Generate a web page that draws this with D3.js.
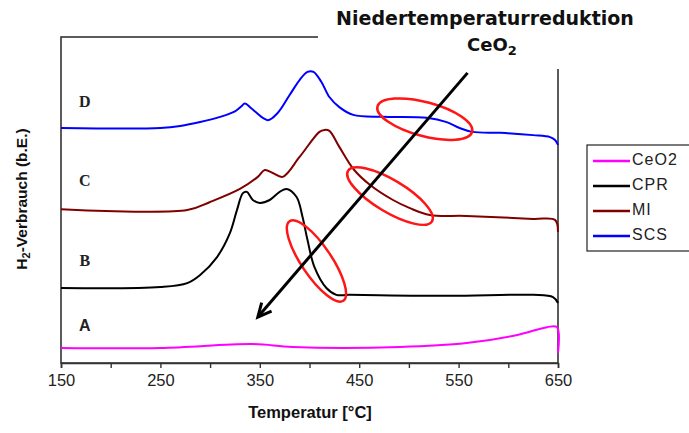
<!DOCTYPE html>
<html><head><meta charset="utf-8">
<script src="https://cdn.jsdelivr.net/npm/d3@7"></script>
<style>body{margin:0;background:#fff}svg{display:block}</style>
</head><body>
<svg id="c" width="689" height="433"></svg>
<script>
// ---- data (x: temperature °C, y: H2 consumption, arbitrary units) ----
const seriesNames = ["CeO2", "CPR", "MI", "SCS"];
const seriesColors = ["#ff00ff", "#000000", "#800000", "#0000ff"];
const tempCeO2 = [150, 250, 343, 383, 491, 558, 609, 639, 649, 650];
const valCeO2  = [0.46, 0.46, 0.58, 0.49, 0.49, 0.61, 0.86, 1.10, 1.10, 0.31];
const tempCPR = [150, 250, 277, 290, 307, 320, 327, 333, 337, 343, 350, 360, 370, 377, 387, 393, 398, 405, 417, 427, 440, 541, 625, 645, 650];
const valCPR  = [2.30, 2.33, 2.45, 2.70, 3.25, 3.99, 4.69, 5.21, 5.25, 5.00, 4.91, 5.00, 5.25, 5.34, 5.09, 4.48, 3.77, 2.94, 2.30, 2.09, 2.09, 2.06, 2.09, 2.02, 1.84];
const tempMI = [150, 277, 300, 330, 348, 355, 363, 373, 390, 410, 415, 420, 430, 445, 461, 484, 501, 521, 558, 625, 647, 650];
const valMI  = [4.72, 4.69, 4.94, 5.34, 5.71, 5.92, 5.83, 5.71, 6.32, 7.09, 7.15, 7.12, 6.63, 5.92, 5.46, 5.00, 4.75, 4.54, 4.51, 4.42, 4.39, 4.02];
const tempSCS = [150, 250, 270, 290, 310, 325, 331, 335, 342, 358, 368, 380, 390, 398, 404, 412, 420, 430, 444, 474, 518, 538, 551, 564, 592, 625, 642, 647, 650];
const valSCS  = [7.21, 7.21, 7.27, 7.39, 7.55, 7.72, 7.86, 7.96, 7.80, 7.45, 7.67, 8.22, 8.68, 8.93, 8.93, 8.62, 8.16, 7.85, 7.61, 7.55, 7.52, 7.39, 7.21, 7.09, 7.06, 6.99, 6.93, 6.84, 6.69];
const xTicks = [150, 250, 350, 450, 550, 650];
const xMinorTicks = [150, 200, 250, 300, 350, 400, 450, 500, 550, 600, 650];
const curveLetters = ["A", "B", "C", "D"];
const letterTemp = 174;
const letterVals = [1.10, 3.10, 5.55, 7.96];
const arrowFrom = [559, 8.90];
const arrowTo = [348, 1.41];
const ellipseCenters = [[516, 7.48], [481, 5.12], [407, 3.13]];

// ---- layout ----
const svg = d3.select("#c");
const L = 61, R = 558, T = 37, B = 363;
const x = d3.scaleLinear().domain([150, 650]).range([L, R]);
const y = d3.scaleLinear().domain([0, 10]).range([B, T]);

// frame
svg.append("rect").attr("x", L).attr("y", T).attr("width", R - L).attr("height", B - T)
  .attr("fill", "none").attr("stroke", "#333").attr("stroke-width", 1.6);
// white area hiding frame behind title
svg.append("rect").attr("x", 318).attr("y", 0).attr("width", 371).attr("height", 69).attr("fill", "#fff");

// x axis
const xAxis = d3.axisBottom(x).tickValues(xMinorTicks).tickSize(5).tickFormat(d => xTicks.includes(d) ? d : "");
const gx = svg.append("g").attr("transform", `translate(0,${B})`).call(xAxis);
gx.select(".domain").attr("stroke", "#333").attr("stroke-width", 1.6);
gx.selectAll(".tick line").attr("stroke", "#333").attr("stroke-width", 1.4);
gx.selectAll(".tick text").attr("font-family", "Liberation Sans, Arial, sans-serif")
  .attr("font-size", 16.5).attr("fill", "#222").attr("dy", "0.95em").attr("y", 7);

// curves
const lineSimple = d3.line().x(d => x(d[0])).y(d => y(d[1])).curve(d3.curveCatmullRom.alpha(0.5));
const dataSets = [
  d3.zip(tempCeO2, valCeO2), d3.zip(tempCPR, valCPR), d3.zip(tempMI, valMI), d3.zip(tempSCS, valSCS)
];
dataSets.forEach((ds, i) => {
  svg.append("path").datum(ds).attr("d", lineSimple)
    .attr("fill", "none").attr("stroke", seriesColors[i]).attr("stroke-width", 2)
    .attr("stroke-linejoin", "round");
});

// letters
curveLetters.forEach((l, i) => {
  svg.append("text").attr("x", x(letterTemp)).attr("y", y(letterVals[i]))
    .attr("text-anchor", "middle").attr("dominant-baseline", "middle")
    .attr("font-family", i === 0 ? "Liberation Sans, Arial, sans-serif" : "Liberation Serif, Times New Roman, serif")
    .attr("font-weight", "bold").attr("font-size", 16).attr("fill", "#222").text(l);
});

// ellipses
const ellStyle = [[49, 17, 15], [49, 16, 31], [48, 15, 56]];
ellipseCenters.forEach((c, i) => {
  const [rx, ry, a] = ellStyle[i];
  svg.append("ellipse").attr("cx", 0).attr("cy", 0).attr("rx", rx).attr("ry", ry)
    .attr("transform", `translate(${x(c[0])},${y(c[1])}) rotate(${a})`)
    .attr("fill", "none").attr("stroke", "#ff1515").attr("stroke-width", 2.5);
});

// arrow
const ax1 = x(arrowFrom[0]), ay1 = y(arrowFrom[1]), ax2 = x(arrowTo[0]), ay2 = y(arrowTo[1]);
svg.append("line").attr("x1", ax1).attr("y1", ay1).attr("x2", ax2).attr("y2", ay2)
  .attr("stroke", "#000").attr("stroke-width", 3);
const ang = Math.atan2(ay2 - ay1, ax2 - ax1);
const hl = 15, ha = 0.45;
const p1 = [ax2 - hl * Math.cos(ang - ha), ay2 - hl * Math.sin(ang - ha)];
const p2 = [ax2 - hl * Math.cos(ang + ha), ay2 - hl * Math.sin(ang + ha)];
svg.append("path").attr("d", `M${p1}L${ax2},${ay2}L${p2}`).attr("fill", "none")
  .attr("stroke", "#000").attr("stroke-width", 3).attr("stroke-linejoin", "miter");

// title
svg.append("text").attr("x", 485).attr("y", 25).attr("text-anchor", "middle")
  .attr("font-family", "DejaVu Sans, sans-serif").attr("font-weight", "bold").attr("font-size", 19)
  .attr("fill", "#111").text("Niedertemperaturreduktion");
const t2 = svg.append("text").attr("x", 492).attr("y", 51).attr("text-anchor", "middle")
  .attr("font-family", "DejaVu Sans, sans-serif").attr("font-weight", "bold").attr("font-size", 18).attr("fill", "#111");
t2.append("tspan").text("CeO");
t2.append("tspan").attr("font-size", 13).attr("dy", 4).text("2");

// axis titles
svg.append("text").attr("x", 310).attr("y", 418).attr("text-anchor", "middle")
  .attr("font-family", "Liberation Sans Narrow, Liberation Sans, Arial, sans-serif").attr("font-weight", "bold")
  .attr("font-size", 16.5).attr("fill", "#111").text("Temperatur [°C]");
const yl = svg.append("text").attr("transform", "translate(27,199) rotate(-90)").attr("text-anchor", "middle")
  .attr("font-family", "Liberation Sans, Arial, sans-serif").attr("font-weight", "bold")
  .attr("font-size", 15.5).attr("fill", "#111");
yl.append("tspan").text("H");
yl.append("tspan").attr("font-size", 11).attr("dy", 3).text("2");
yl.append("tspan").attr("dy", -3).text("-Verbrauch (b.E.)");

// legend
const lg = svg.append("g");
lg.append("rect").attr("x", 587).attr("y", 145).attr("width", 120).attr("height", 106)
  .attr("fill", "#fff").attr("stroke", "#222").attr("stroke-width", 1.2);
seriesNames.forEach((n, i) => {
  const yy = 161 + i * 25;
  lg.append("line").attr("x1", 593).attr("x2", 630).attr("y1", yy).attr("y2", yy)
    .attr("stroke", seriesColors[i]).attr("stroke-width", 2.5);
  lg.append("text").attr("x", 632).attr("y", yy).attr("dominant-baseline", "middle")
    .attr("font-family", "Liberation Sans, Arial, sans-serif").attr("font-size", 16)
    .attr("letter-spacing", 1).attr("fill", "#222").text(n);
});
</script>
</body></html>
